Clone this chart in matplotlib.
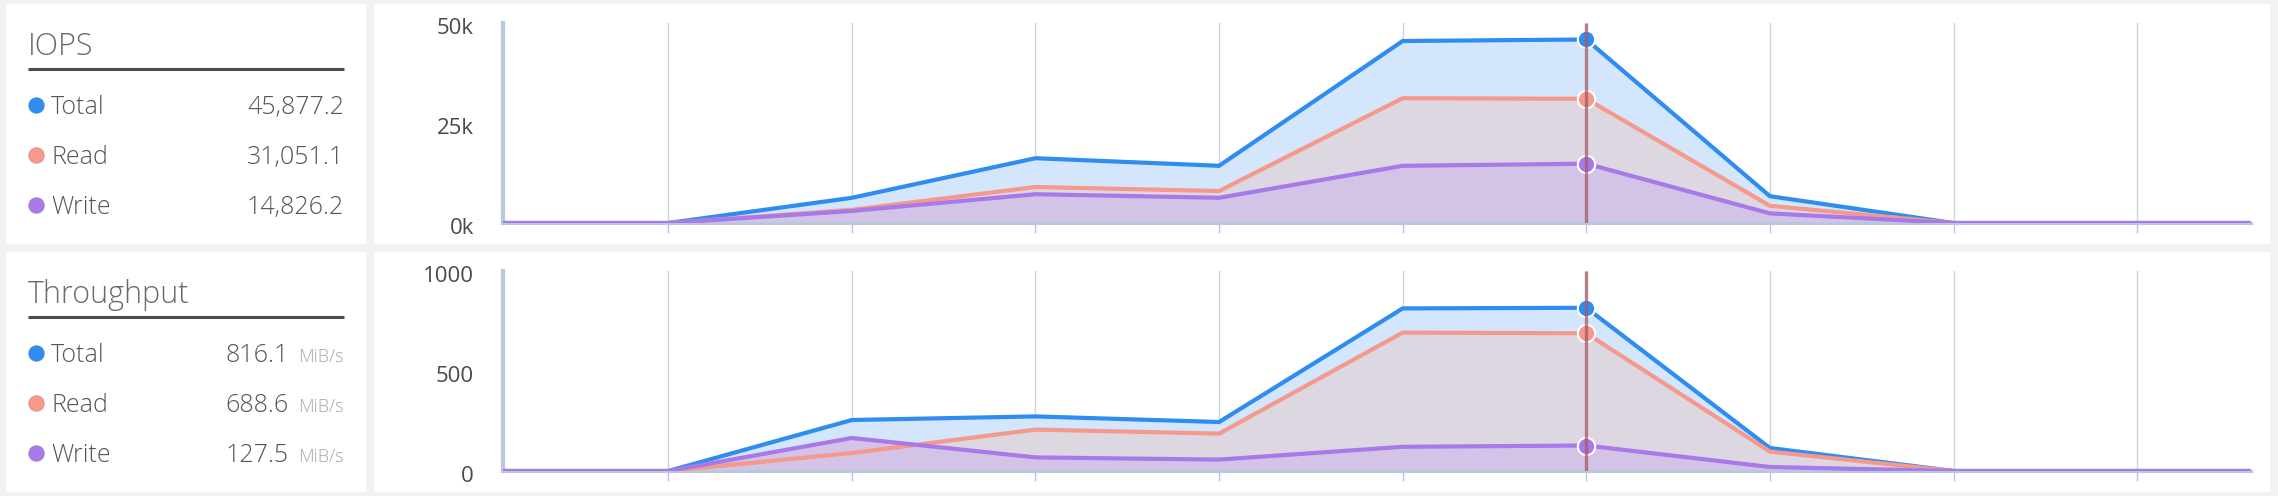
#!/usr/bin/env python3
"""IOPS / throughput dashboard strip: two stacked area panels with a legend card each."""

import matplotlib
matplotlib.use("Agg")
import matplotlib.pyplot as plt
import matplotlib.transforms as mtrans
from matplotlib.patches import Rectangle

W, H, DPI = 2278, 496, 100

# sample times (s); gridlines sit every 10 s
TIMES = [0, 9, 19, 29, 39, 49, 59, 69, 79, 89, 95.2]
GRID_TICKS = [9, 19, 29, 39, 49, 59, 69, 79, 89]
CURSOR_T = 59

IOPS_TOTAL = [0, 0, 6300, 16200, 14300, 45500, 45877.2, 6700, 0, 0, 0]
IOPS_READ = [0, 0, 3300, 9000, 8000, 31200, 31051.1, 4300, 0, 0, 0]
IOPS_WRITE = [0, 0, 3000, 7200, 6300, 14300, 14826.2, 2400, 0, 0, 0]

TP_TOTAL = [0, 0, 255, 273, 245, 813, 816.1, 115, 0, 0, 0]
TP_READ = [0, 0, 90, 207, 187, 692, 688.6, 97, 0, 0, 0]
TP_WRITE = [0, 0, 165, 68, 57, 121, 127.5, 20, 0, 0, 0]

SERIES = ["Total", "Read", "Write"]
LINE_COLORS = {"Total": "#2f8cf0", "Read": "#f4998c", "Write": "#a879e8"}
FILL_COLORS = {"Total": "#d3e6fc", "Read": "#ddd7e2", "Write": "#d3c4e7"}
AXIS_COLOR = "#b8c8de"
GRID_COLOR = "#cfd6df"
CURSOR_COLOR = "#a85a64"

FONT = ["Open Sans", "DejaVu Sans"]
plt.rcParams["font.family"] = FONT


def fx(x):
    return x / W


def fy(y):
    return 1 - y / H


def draw_card(bg, y0, title, values, unit):
    # legend card on the left
    bg.text(28, y0 + 55, title, fontsize=22, color="#6a6a6a",
            fontweight="light", va="baseline", ha="left")
    bg.plot([28, 344], [y0 + 69, y0 + 69], color="#4d4d4d", lw=2.2,
            solid_capstyle="butt")
    for i, name in enumerate(SERIES):
        base = y0 + 114 + i * 50
        bg.plot([36], [base - 9], marker="o", markersize=11.5,
                color=LINE_COLORS[name], markeredgecolor="#00000022",
                markeredgewidth=0.6)
        bg.text(51, base, name, fontsize=18, color="#555555",
                fontweight="light", va="baseline", ha="left")
        val = f"{values[i]:,.1f}"
        if unit:
            bg.text(344, base, unit, fontsize=13, color="#a8a8a8",
                    fontweight="light", va="baseline", ha="right")
            bg.text(289, base, val, fontsize=18, color="#555555",
                    fontweight="light", va="baseline", ha="right")
        else:
            bg.text(344, base, val, fontsize=18, color="#555555",
                    fontweight="light", va="baseline", ha="right")


def draw_chart(fig, rect, total, read, write, ymax, yticks, yticklabels):
    ax = fig.add_axes(rect, zorder=2)
    ax.set_facecolor("none")
    data = {"Total": total, "Read": read, "Write": write}
    for k, name in enumerate(SERIES):
        ax.fill_between(TIMES, 0, data[name], color=FILL_COLORS[name],
                        lw=0, zorder=1 + k)
    for k, name in enumerate(SERIES):
        ax.plot(TIMES, data[name], color=LINE_COLORS[name], lw=3.0,
                zorder=5 + k, solid_joinstyle="miter")
    idx = TIMES.index(CURSOR_T)
    for k, name in enumerate(SERIES):
        ax.plot([CURSOR_T], [data[name][idx]], marker="o", markersize=12.5,
                color=LINE_COLORS[name], markeredgecolor="white",
                markeredgewidth=1.5, zorder=9, linestyle="None")
    ax.plot([CURSOR_T, CURSOR_T], [0, ymax], color=CURSOR_COLOR, lw=2.4,
            alpha=0.75, zorder=10, solid_capstyle="butt")

    ax.set_xlim(TIMES[0], TIMES[-1])
    ax.set_ylim(0, ymax)
    ax.set_xticks(GRID_TICKS)
    ax.set_xticklabels([])
    ax.set_yticks(yticks)
    ax.set_yticklabels(yticklabels)
    ax.grid(True, axis="x", color=GRID_COLOR, lw=1.0, zorder=0)
    ax.set_axisbelow(True)
    ax.tick_params(axis="x", length=7, width=1.0, color=AXIS_COLOR,
                   direction="out")
    ax.tick_params(axis="y", length=0, pad=21, labelsize=16,
                   labelcolor="#4a4a4a")
    for lab in ax.get_yticklabels():
        lab.set_transform(lab.get_transform() + mtrans.ScaledTranslation(
            0, -3 / DPI, fig.dpi_scale_trans))
    for side in ("top", "right"):
        ax.spines[side].set_visible(False)
    ax.spines["left"].set_color(AXIS_COLOR)
    ax.spines["left"].set_linewidth(3.0)
    ax.spines["bottom"].set_color(AXIS_COLOR)
    ax.spines["bottom"].set_linewidth(2.2)
    ax.spines["bottom"].set_zorder(4)
    return ax


def main():
    fig = plt.figure(figsize=(W / DPI, H / DPI), dpi=DPI)
    fig.patch.set_facecolor("#f2f2f2")

    bg = fig.add_axes([0, 0, 1, 1], zorder=0)
    bg.set_xlim(0, W)
    bg.set_ylim(H, 0)
    bg.axis("off")
    for y0, y1 in [(4, 244), (252, 492)]:
        bg.add_patch(Rectangle((6, y0), 360, y1 - y0, color="white", lw=0))
        bg.add_patch(Rectangle((374, y0), 1896, y1 - y0, color="white", lw=0))

    draw_card(bg, 0, "IOPS",
              [IOPS_TOTAL[6], IOPS_READ[6], IOPS_WRITE[6]], None)
    draw_card(bg, 248, "Throughput",
              [TP_TOTAL[6], TP_READ[6], TP_WRITE[6]], "MiB/s")

    x0, x1 = 503, 2251
    draw_chart(fig, [fx(x0), fy(223), fx(x1) - fx(x0), fy(23) - fy(223)],
               IOPS_TOTAL, IOPS_READ, IOPS_WRITE, 50000,
               [0, 25000, 50000], ["0k", "25k", "50k"])
    draw_chart(fig, [fx(x0), fy(471), fx(x1) - fx(x0), fy(271) - fy(471)],
               TP_TOTAL, TP_READ, TP_WRITE, 1000,
               [0, 500, 1000], ["0", "500", "1000"])

    fig.savefig("out.png", dpi=DPI, facecolor=fig.get_facecolor())
    plt.close(fig)


if __name__ == "__main__":
    main()
